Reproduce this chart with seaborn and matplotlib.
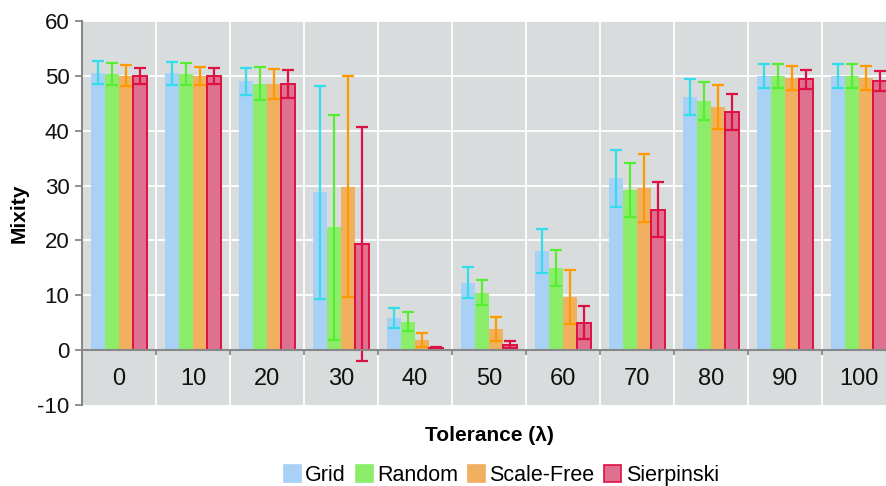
import pandas as pd
import numpy as np
import seaborn as sns
import matplotlib.pyplot as plt

# Values
tolerance = ["0", "10", "20", "30", "40", "50", "60", "70", "80", "90", "100"]
networks = ["Grid", "Random", "Scale-Free", "Sierpinski"]

grid_mean = [50.6, 50.5, 49.0, 28.8, 5.8, 12.3, 18.0, 31.3, 46.1, 50.0, 50.0]
grid_err = [2.1, 2.1, 2.5, 19.4, 1.8, 2.8, 4.0, 5.2, 3.3, 2.2, 2.2]
random_mean = [50.4, 50.3, 48.6, 22.4, 5.2, 10.5, 15.0, 29.2, 45.4, 50.0, 50.0]
random_err = [2.0, 2.0, 3.0, 20.5, 1.8, 2.3, 3.3, 4.9, 3.5, 2.2, 2.2]
scalefree_mean = [50.0, 50.0, 48.5, 29.8, 1.8, 3.8, 9.7, 29.5, 44.3, 49.6, 49.6]
scalefree_err = [1.9, 1.7, 2.8, 20.2, 1.3, 2.2, 5.0, 6.2, 4.0, 2.2, 2.2]
sierp_mean = [50.0, 50.0, 48.5, 19.3, 0.4, 1.0, 5.0, 25.6, 43.4, 49.4, 49.1]
sierp_err = [1.5, 1.5, 2.5, 21.3, 0.2, 0.6, 3.0, 5.0, 3.3, 1.7, 1.8]

fill_colors = ["#a9d0f5", "#8ced6a", "#f0b060", "#e07090"]
err_colors = ["#33ddee", "#55ee33", "#ff9900", "#dd1144"]

means = [grid_mean, random_mean, scalefree_mean, sierp_mean]
errs = [grid_err, random_err, scalefree_err, sierp_err]

df = pd.DataFrame({
    "Tolerance": tolerance * 4,
    "Network": np.repeat(networks, len(tolerance)),
    "Mixity": np.concatenate(means),
})

plt.rcParams["font.family"] = ["Liberation Sans", "DejaVu Sans"]
plt.rcParams["axes.unicode_minus"] = False

fig = plt.figure(figsize=(8.87, 4.86), dpi=100)
ax = fig.add_axes([0.0924, 0.1667, 0.918, 0.790])
ax.set_facecolor("#d8dcdc")

sns.barplot(data=df, x="Tolerance", y="Mixity", hue="Network", order=tolerance,
            hue_order=networks, palette=fill_colors, errorbar=None, saturation=1,
            width=0.76, gap=0, ax=ax, zorder=3, legend=False)

# error bars at the bar centres seaborn placed
bar_groups = list(ax.containers)
for k, cont in enumerate(bar_groups):
    xs = [p.get_x() + p.get_width() / 2 for p in cont.patches]
    ys = [p.get_height() for p in cont.patches]
    for p in cont.patches:
        if k == 3:
            p.set_edgecolor(err_colors[k])
            p.set_linewidth(1.4)
        else:
            p.set_linewidth(0)
    ax.errorbar(xs, ys, yerr=errs[k], fmt="none", ecolor=err_colors[k],
                elinewidth=1.6, capsize=4.5, capthick=1.6, zorder=4)

ax.set_ylim(-10, 60)
ax.set_xlim(-0.5, len(tolerance) - 0.5)
ax.set_yticks(range(-10, 61, 10))
ax.grid(False)
for y in range(10, 61, 10):
    ax.axhline(y, color="white", lw=1.3, zorder=1)
for i in range(1, len(tolerance)):
    ax.axvline(i - 0.5, color="white", lw=1.3, zorder=1)
ax.axhline(0, color="#888888", lw=1.5, zorder=5)
ax.vlines(np.arange(len(tolerance)) + 0.5, -0.9, 0, color="#888888", lw=1.3, zorder=5)

ax.set_xticks([])
for i, t in enumerate(tolerance):
    ax.text(i, -5.2, t, ha="center", va="center", fontsize=17, color="#111111")

for s in ["top", "right", "bottom"]:
    ax.spines[s].set_visible(False)
ax.spines["left"].set_color("#888888")
ax.spines["left"].set_linewidth(1.5)
ax.tick_params(axis="y", labelsize=16, colors="#888888", labelcolor="#111111",
               length=5, width=1.3, pad=4)

ax.set_ylabel("Mixity", fontsize=15, fontweight="bold", labelpad=6)
ax.set_xlabel("")
fig.text(0.552, 0.103, "Tolerance (λ)", ha="center", va="center",
         fontsize=15, fontweight="bold")

handles = [plt.Rectangle((0, 0), 1, 1, facecolor=fill_colors[k],
                         edgecolor=err_colors[3] if k == 3 else fill_colors[k], lw=1.2)
           for k in range(4)]
fig.legend(handles, networks, loc="center", bbox_to_anchor=(0.565, 0.022), ncol=4,
           frameon=False, fontsize=15.5, handlelength=0.8, handleheight=0.8,
           handletextpad=0.2, columnspacing=0.45, borderaxespad=0, borderpad=0)

fig.savefig("out.png", dpi=100)
